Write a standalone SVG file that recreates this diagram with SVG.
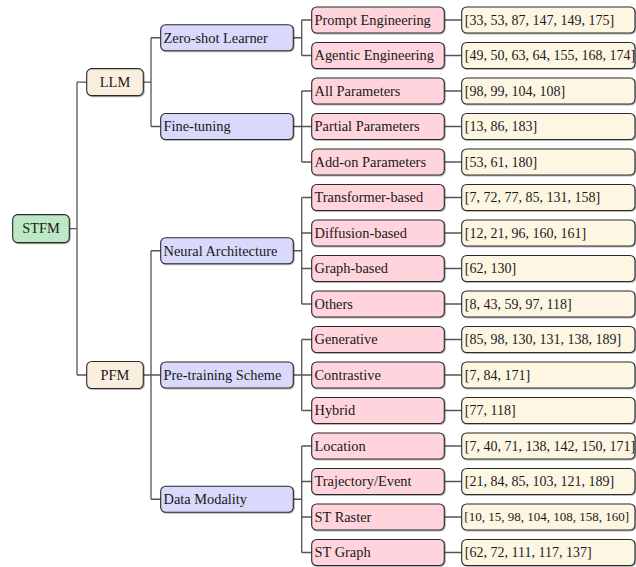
<svg xmlns="http://www.w3.org/2000/svg" width="636" height="567" viewBox="0 0 636 567">
<defs>
<filter id="sh" x="-10%" y="-20%" width="120%" height="150%">
<feDropShadow dx="0.8" dy="0.8" stdDeviation="0.6" flood-color="#000" flood-opacity="0.35"/>
</filter>
</defs>
<style>
rect{stroke:#2a2a2a;stroke-width:1.1;filter:url(#sh)}
.g{fill:#bde8c5}
.l{fill:#faefdf}
.b{fill:#d9d9fb}
.p{fill:#ffd4dc}
.y{fill:#fdf6e3}
text{font-family:"Liberation Serif","DejaVu Serif",serif;font-size:14.4px;fill:#1a1a1a}
.y+text{font-size:14px}
.y+text.s{font-size:13px}
.c{text-anchor:middle}
#connectors path{fill:none;stroke:#555;stroke-width:1.3}
</style>
<rect width="636" height="567" fill="#fff" style="stroke:none;filter:none"/>
<g id="connectors">
<path d="M69.3 228.6H77M77 82.1V375M77 82.1H86.7M77 375H86.7"/>
<path d="M143.3 82.1H151M151 37.75V126.5M151 37.75H160.7M151 126.5H160.7"/>
<path d="M143.3 375H151M151 250.75V499.25M151 250.75H160.7M151 375H160.7M151 499.25H160.7"/>
<path d="M293.3 37.75H301.7M301.7 20V55.5M301.7 20H311.7M301.7 55.5H311.7"/>
<path d="M293.3 126.5H301.7M301.7 91V162M301.7 91H311.7M301.7 126.5H311.7M301.7 162H311.7"/>
<path d="M293.3 250.75H301.7M301.7 197.5V304M301.7 197.5H311.7M301.7 233H311.7M301.7 268.5H311.7M301.7 304H311.7"/>
<path d="M293.3 375H301.7M301.7 339.5V410.5M301.7 339.5H311.7M301.7 375H311.7M301.7 410.5H311.7"/>
<path d="M293.3 499.25H301.7M301.7 446V552.5M301.7 446H311.7M301.7 481.5H311.7M301.7 517H311.7M301.7 552.5H311.7"/>
<path d="M444.3 20H461.7M444.3 55.5H461.7M444.3 91H461.7M444.3 126.5H461.7M444.3 162H461.7M444.3 197.5H461.7M444.3 233H461.7M444.3 268.5H461.7M444.3 304H461.7M444.3 339.5H461.7M444.3 375H461.7M444.3 410.5H461.7M444.3 446H461.7M444.3 481.5H461.7M444.3 517H461.7M444.3 552.5H461.7"/>
</g>
<g id="n-stfm"><rect class="g" x="12.7" y="214.6" width="56.6" height="28" rx="5"/><text class="c" x="41" y="233.4">STFM</text></g>
<g id="n-llm"><rect class="l" x="86.7" y="68.6" width="56.6" height="27" rx="5"/><text class="c" x="115" y="86.9">LLM</text></g>
<g id="n-pfm"><rect class="l" x="86.7" y="361.5" width="56.6" height="27" rx="5"/><text class="c" x="115" y="379.8">PFM</text></g>
<g id="n-zsl"><rect class="b" x="160.7" y="24.75" width="132.6" height="26" rx="5"/><text x="163.5" y="42.5">Zero-shot Learner</text></g>
<g id="n-ft"><rect class="b" x="160.7" y="113.5" width="132.6" height="26" rx="5"/><text x="163.5" y="131.2">Fine-tuning</text></g>
<g id="n-na"><rect class="b" x="160.7" y="237.75" width="132.6" height="26" rx="5"/><text x="163.5" y="255.5">Neural Architecture</text></g>
<g id="n-pts"><rect class="b" x="160.7" y="362" width="132.6" height="26" rx="5"/><text x="163.5" y="379.7">Pre-training Scheme</text></g>
<g id="n-dm"><rect class="b" x="160.7" y="486.25" width="132.6" height="26" rx="5"/><text x="163.5" y="504">Data Modality</text></g>
<g id="n-pe"><rect class="p" x="311.7" y="7" width="132.6" height="26" rx="5"/><text x="314.5" y="24.7">Prompt Engineering</text></g>
<g id="n-ae"><rect class="p" x="311.7" y="42.5" width="132.6" height="26" rx="5"/><text x="314.5" y="60.2">Agentic Engineering</text></g>
<g id="n-ap"><rect class="p" x="311.7" y="78" width="132.6" height="26" rx="5"/><text x="314.5" y="95.7">All Parameters</text></g>
<g id="n-pp"><rect class="p" x="311.7" y="113.5" width="132.6" height="26" rx="5"/><text x="314.5" y="131.2">Partial Parameters</text></g>
<g id="n-aop"><rect class="p" x="311.7" y="149" width="132.6" height="26" rx="5"/><text x="314.5" y="166.7">Add-on Parameters</text></g>
<g id="n-tb"><rect class="p" x="311.7" y="184.5" width="132.6" height="26" rx="5"/><text x="314.5" y="202.2">Transformer-based</text></g>
<g id="n-db"><rect class="p" x="311.7" y="220" width="132.6" height="26" rx="5"/><text x="314.5" y="237.7">Diffusion-based</text></g>
<g id="n-gb"><rect class="p" x="311.7" y="255.5" width="132.6" height="26" rx="5"/><text x="314.5" y="273.2">Graph-based</text></g>
<g id="n-ot"><rect class="p" x="311.7" y="291" width="132.6" height="26" rx="5"/><text x="314.5" y="308.7">Others</text></g>
<g id="n-gen"><rect class="p" x="311.7" y="326.5" width="132.6" height="26" rx="5"/><text x="314.5" y="344.2">Generative</text></g>
<g id="n-con"><rect class="p" x="311.7" y="362" width="132.6" height="26" rx="5"/><text x="314.5" y="379.7">Contrastive</text></g>
<g id="n-hyb"><rect class="p" x="311.7" y="397.5" width="132.6" height="26" rx="5"/><text x="314.5" y="415.2">Hybrid</text></g>
<g id="n-loc"><rect class="p" x="311.7" y="433" width="132.6" height="26" rx="5"/><text x="314.5" y="450.7">Location</text></g>
<g id="n-te"><rect class="p" x="311.7" y="468.5" width="132.6" height="26" rx="5"/><text x="314.5" y="486.2">Trajectory/Event</text></g>
<g id="n-str"><rect class="p" x="311.7" y="504" width="132.6" height="26" rx="5"/><text x="314.5" y="521.7">ST Raster</text></g>
<g id="n-stg"><rect class="p" x="311.7" y="539.5" width="132.6" height="26" rx="5"/><text x="314.5" y="557.2">ST Graph</text></g>
<g id="r-pe"><rect class="y" x="461.7" y="7" width="173.3" height="26" rx="5"/><text x="464.8" y="24.6">[33, 53, 87, 147, 149, 175]</text></g>
<g id="r-ae"><rect class="y" x="461.7" y="42.5" width="173.3" height="26" rx="5"/><text x="464.8" y="60.1">[49, 50, 63, 64, 155, 168, 174]</text></g>
<g id="r-ap"><rect class="y" x="461.7" y="78" width="173.3" height="26" rx="5"/><text x="464.8" y="95.6">[98, 99, 104, 108]</text></g>
<g id="r-pp"><rect class="y" x="461.7" y="113.5" width="173.3" height="26" rx="5"/><text x="464.8" y="131.1">[13, 86, 183]</text></g>
<g id="r-aop"><rect class="y" x="461.7" y="149" width="173.3" height="26" rx="5"/><text x="464.8" y="166.6">[53, 61, 180]</text></g>
<g id="r-tb"><rect class="y" x="461.7" y="184.5" width="173.3" height="26" rx="5"/><text x="464.8" y="202.1">[7, 72, 77, 85, 131, 158]</text></g>
<g id="r-db"><rect class="y" x="461.7" y="220" width="173.3" height="26" rx="5"/><text x="464.8" y="237.6">[12, 21, 96, 160, 161]</text></g>
<g id="r-gb"><rect class="y" x="461.7" y="255.5" width="173.3" height="26" rx="5"/><text x="464.8" y="273.1">[62, 130]</text></g>
<g id="r-ot"><rect class="y" x="461.7" y="291" width="173.3" height="26" rx="5"/><text x="464.8" y="308.6">[8, 43, 59, 97, 118]</text></g>
<g id="r-gen"><rect class="y" x="461.7" y="326.5" width="173.3" height="26" rx="5"/><text x="464.8" y="344.1">[85, 98, 130, 131, 138, 189]</text></g>
<g id="r-con"><rect class="y" x="461.7" y="362" width="173.3" height="26" rx="5"/><text x="464.8" y="379.6">[7, 84, 171]</text></g>
<g id="r-hyb"><rect class="y" x="461.7" y="397.5" width="173.3" height="26" rx="5"/><text x="464.8" y="415.1">[77, 118]</text></g>
<g id="r-loc"><rect class="y" x="461.7" y="433" width="173.3" height="26" rx="5"/><text x="464.8" y="450.6">[7, 40, 71, 138, 142, 150, 171]</text></g>
<g id="r-te"><rect class="y" x="461.7" y="468.5" width="173.3" height="26" rx="5"/><text x="464.8" y="486.1">[21, 84, 85, 103, 121, 189]</text></g>
<g id="r-str"><rect class="y" x="461.7" y="504" width="173.3" height="26" rx="5"/><text class="s" x="464.3" y="521.4">[10, 15, 98, 104, 108, 158, 160]</text></g>
<g id="r-stg"><rect class="y" x="461.7" y="539.5" width="173.3" height="26" rx="5"/><text x="464.8" y="557.1">[62, 72, 111, 117, 137]</text></g>
</svg>
